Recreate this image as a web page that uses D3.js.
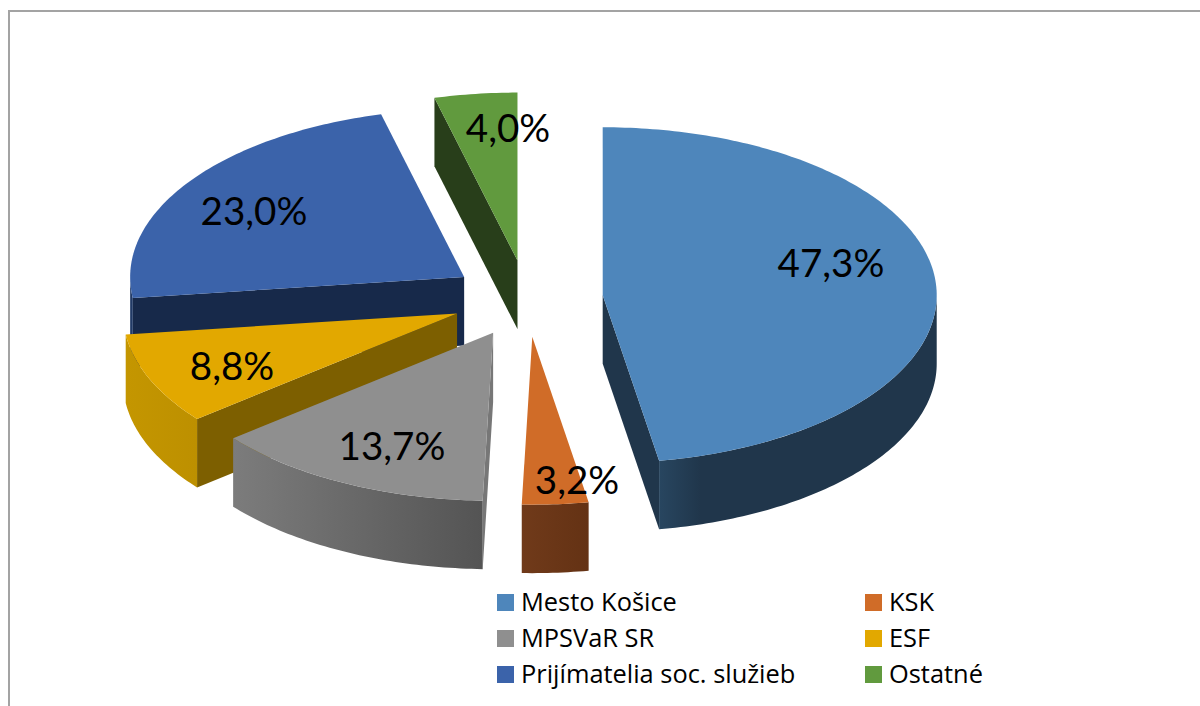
<!DOCTYPE html>
<html>
<head>
<meta charset="utf-8">
<script src="https://cdn.jsdelivr.net/npm/d3@7"></script>
<style>
	body { margin: 0; background: #fff; }
	text { fill: #000; }
	text.value { font-family: Lato, sans-serif; }
	.legend text { font-family: "Open Sans", Lato, sans-serif; }
</style>
</head>
<body>
<div id="chart-area"></div>
<script>
/*
*    3D exploded pie
*/

var categories = ["Mesto Košice", "KSK", "MPSVaR SR", "ESF", "Prijímatelia soc. služieb", "Ostatné"];
var shares = [47.3, 3.2, 13.7, 8.8, 23.0, 4.0];

var topColors = ["#4e86bb", "#d06c28", "#8f8f8f", "#e2a800", "#3b63aa", "#619a3e"];
var wallColors = ["#20364b", "#6a3616", "#777777", "#7d5f00", "#17294a", "#283e1a"];
var rimFrom = ["#284660", "#703a1a", "#7c7c7c", "#c49600", "#213a66", "#34521f"];
var rimTo = ["#20364b", "#643214", "#545454", "#bd9000", "#213a66", "#34521f"];
// where each rim gradient reaches its dark end
var rimStop = [0.15, 1, 1, 1, 1, 1];

var chartWidth = 1200;
var chartHeight = 706;
var center = {x: 527, y: 298.5};
var radiusX = 334;
var radiusY = 168;
var depth = 68.5;
var explode = 0.2275;

// label centres were placed by hand in the original chart
var labelSpots = [[831, 263], [577, 480], [392, 446], [232, 366], [254, 211], [508, 128]];

var svg = d3.select("#chart-area").append("svg").attr("width", chartWidth).attr("height", chartHeight);
var defs = svg.append("defs");

// picture frame, only top and left edges show
svg.append("path").attr("d", "M9,706V11H1200").attr("fill", "none").attr("stroke", "#a3a3a3").attr("stroke-width", 2);

var pie = d3.pie().sort(null).value((d) => { return d; });
var slices = pie(shares);

var line = d3.line().x((d) => { return d[0]; }).y((d) => { return d[1]; });

function point(c, a, dy) {
	return [c.x + radiusX * Math.sin(a), c.y - radiusY * Math.cos(a) + (dy || 0)];
}

function arcPoints(c, a0, a1, dy) {
	var n = Math.max(2, Math.ceil((a1 - a0) * 60));
	return d3.range(n + 1).map((i) => { return point(c, a0 + (a1 - a0) * i / n, dy); });
}

function wall(c, a) {
	var p = point(c, a);
	return line([[c.x, c.y], p, [p[0], p[1] + depth], [c.x, c.y + depth]]) + "Z";
}

var groups = svg.selectAll("g.slice").data(slices).enter().append("g").attr("class", "slice");

// back to front: last slice first, first slice on top
groups.sort((a, b) => { return b.index - a.index; });

groups.each(function(d) {
	var g = d3.select(this);
	var mid = (d.startAngle + d.endAngle) / 2;
	var c = {
		x: center.x + explode * radiusX * Math.sin(mid),
		y: center.y - explode * radiusY * Math.cos(mid)
	};

	// cut faces that turn toward the viewer
	if (Math.sin(d.startAngle) < -0.001) {
		g.append("path").attr("d", wall(c, d.startAngle)).attr("fill", wallColors[d.index]);
	}
	if (Math.sin(d.endAngle) > 0.001) {
		g.append("path").attr("d", wall(c, d.endAngle)).attr("fill", wallColors[d.index]);
	}

	// outer rim, only the front half of the ellipse
	var a0 = Math.max(d.startAngle, Math.PI / 2);
	var a1 = Math.min(d.endAngle, Math.PI * 3 / 2);
	if (a1 > a0) {
		var front = arcPoints(c, a0, a1, 0);
		var back = arcPoints(c, a0, a1, depth).reverse();
		var xs = d3.extent(front, (p) => { return p[0]; });
		var id = "rim" + d.index;
		var grad = defs.append("linearGradient").attr("id", id).attr("gradientUnits", "userSpaceOnUse")
			.attr("x1", xs[0]).attr("x2", xs[1]).attr("y1", 0).attr("y2", 0);
		grad.append("stop").attr("offset", 0).attr("stop-color", rimFrom[d.index]);
		grad.append("stop").attr("offset", rimStop[d.index]).attr("stop-color", rimTo[d.index]);
		g.append("path").attr("d", line(front.concat(back)) + "Z").attr("fill", "url(#" + id + ")");
	}

	// top face
	var top = [[c.x, c.y]].concat(arcPoints(c, d.startAngle, d.endAngle, 0));
	g.append("path").attr("d", line(top) + "Z").attr("fill", topColors[d.index]);
});

// value labels
svg.selectAll("text.value").data(slices).enter().append("text").attr("class", "value")
	.attr("x", (d) => { return labelSpots[d.index][0]; })
	.attr("y", (d) => { return labelSpots[d.index][1]; })
	.attr("dy", "0.35em").attr("text-anchor", "middle").attr("font-size", "38.6px")
	.text((d) => { return d.value.toFixed(1).replace(".", ",") + "%"; });

// legend
var legendX = d3.scaleOrdinal().domain([0, 1]).range([497, 865]);
var legendY = d3.scaleBand().domain([0, 1, 2]).range([584.5, 692.5]);

var rows = svg.selectAll("g.legend").data(categories).enter().append("g").attr("class", "legend")
	.attr("transform", (d, i) => { return "translate(" + legendX(i % 2) + "," + (legendY(Math.floor(i / 2)) + legendY.bandwidth() / 2) + ")"; });

rows.append("rect").attr("x", 0).attr("y", -8.5).attr("width", 17).attr("height", 17)
	.attr("fill", (d, i) => { return topColors[i]; });
rows.append("text").attr("x", 24).attr("y", 8.5).attr("font-size", "25.4px").text((d) => { return d; });
</script>
</body>
</html>
